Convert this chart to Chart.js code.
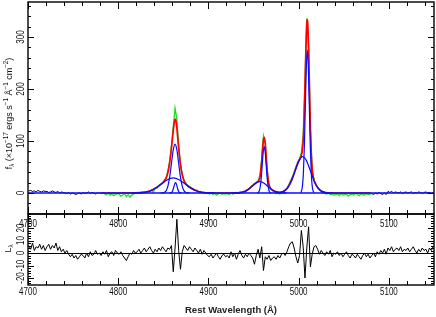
<!DOCTYPE html>
<html>
<head>
<meta charset="utf-8">
<script src="https://cdn.jsdelivr.net/npm/chart.js@4.4.0/dist/chart.umd.min.js"></script>
<style>
  html, body { margin: 0; padding: 0; background: #fff; }
  #wrap { position: relative; width: 436px; height: 317px; }
  #wrap canvas { position: absolute; left: 0; top: 0; }
</style>
</head>
<body>
<div id="wrap">
  <canvas id="spec" width="436" height="317"></canvas>
  <canvas id="resid" width="436" height="317"></canvas>
</div>
<script>
// spectrum grid (rest wavelength, 2 A per pixel)
const waveStart = 4701, waveStep = 2;
// part of the spectrum used in the fit (green)
const fitStart = 4777, fitEnd = 5081;

const obsFlux = [
  4, 5, 3, 4, 2, 5, 3, 2, 4, 3,
  3, 1, 2, 4, 2, 1, 3, 0, 2, 1,
  0, -1, 1, -2, 0, -1, -3, -1, 0, -2,
  1, -1, 0, 2, -1, 1, 0, -2, 1, 0,
  -1, 1, -2, -3, 0, -4, -2, -5, -3, -1,
  -2, -6, -4, -1, -7, -3, -8, -4, -2, 0,
  0, -1, 1, 2, 0, 2, 3, 2, 6, 1,
  10, 9, 15, 17, 18, 25, 28, 42, 60, 90,
  128, 163, 142, 92, 57, 37, 24, 19, 14, 13,
  10, 8, 5, 6, 2, 3, 0, 1, -1, 0,
  -2, 0, -3, -1, -4, -2, 0, -3, -1, -2,
  -1, -3, 0, -2, -1, 1, 0, 2, 1, 3,
  2, 6, 7, 12, 15, 18, 20, 23, 33, 64,
  110, 96, 47, 18, 8, 4, 1, -1, 0, -2,
  0, 2, 6, 9, 16, 24, 31, 40, 51, 60,
  66, 78, 110, 215, 336, 282, 118, 44, 26, 17,
  12, 7, 3, 1, -1, -2, 0, -3, -2, -4,
  -3, -2, -5, -1, -4, -3, -2, -6, -3, -2,
  -4, -1, -3, -5, -2, -3, -4, -1, -3, -2,
  -1, -3, 0, -2, 1, -1, -3, 0, -3, 3,
  1, 3, 0, 2, 1, 0, 2, -1, 1, 2,
  0, 1, 2, -1, 1, 0, 2, 1, -1, 1,
  2, 0, 1, -1, 1
];

const residual = [
  6, 3, 8, 2, 5, 4, 7, 3, 6, 2,
  5, 7, 3, 6, 4, 8, 2, 5, 1, 3,
  0, 2, -1, -3, -1, -4, -2, -5, -3, -1,
  -2, -4, 0, -3, 1, -2, -1, 2, -1, 0,
  -2, 1, -1, 2, -3, 0, 1, -2, 2, 0,
  -1, 1, -2, -4, -6, -3, 0, -1, 2, 0,
  1, 3, 0, 2, 4, 1, 3, 5, 2, 0,
  3, 1, 4, 2, 5, 3, 1, 4, 3, 6,
  -15, 4, 27, 2, -13, 1, 6, 4, 2, 5,
  3, 1, 4, 2, 0, 3, -1, 2, 0, -2,
  -3, -1, -4, -2, 0, -3, -5, -2, -1, -3,
  -2, -4, 1, -3, 0, -5, -1, 2, -2, -4,
  -1, -3, 0, -2, -4, -9, -2, 3, -4, 5,
  -14, -3, -5, -2, -6, -4, -3, -5, -2, -4,
  -1, 0, -2, 1, 5, 8, 9, 4, -3, -8,
  -2, 18, 5, -20, 4, 21, -11, -1, 5, 6,
  3, -1, 2, 0, -2, 1, -1, 2, -3, 0,
  -1, 1, -2, 0, -3, -1, 1, -2, -4, -1,
  -2, -4, -1, -3, -5, -2, 0, -3, -1, -4,
  -2, 0, -3, 1, -1, 2, 0, 3, -1, 4,
  2, 5, 1, 3, 4, 2, 5, 1, 3, 2,
  4, 1, 3, 5, 2, 0, 3, 1, 4, 2,
  3, 0, 4, 2, 5
];

// total model (red)
const modelWave = [4780, 4800, 4815, 4825, 4830, 4835, 4840, 4845, 4848, 4851, 4854, 4856, 4858, 4859,
  4860, 4861, 4862, 4863, 4864, 4865, 4866, 4867, 4868, 4870, 4872, 4874, 4877, 4880, 4885, 4890, 4895,
  4900, 4910, 4920, 4930, 4935, 4940, 4944, 4948, 4951, 4954, 4956, 4957, 4958, 4959, 4960, 4961, 4962,
  4963, 4964, 4965, 4966, 4967, 4968, 4970, 4973, 4976, 4980, 4984, 4988, 4992, 4995, 4998, 5000, 5002,
  5004, 5005, 5006, 5007, 5008, 5009, 5009.6, 5010, 5011, 5012, 5013, 5014, 5015, 5016, 5017, 5019,
  5021, 5024, 5027, 5030, 5035, 5040, 5080];
const modelFlux = [0, 0, 0.2, 0.6, 1.7, 3.9, 7.9, 13.6, 17.7, 22.6, 32.6, 47.2, 71.4, 86.6,
  103.0, 119.6, 134.2, 141.9, 138.5, 124.8, 105.5, 86.1, 69.0, 43.1, 27.8, 19.7, 13.8, 10.0, 5.3, 2.4, 0.95,
  0.3, 0, 0, 0.1, 0.8, 3.0, 6.8, 12.6, 17.1, 20.9, 24.6, 30.2, 41.8, 61.0, 84.4, 103.0, 107.1,
  93.8, 69.7, 45.0, 27.0, 16.4, 11.2, 6.9, 3.8, 2.1, 1.7, 3.9, 10.6, 23.7, 37.5, 52.3, 60.8, 67.7,
  80.8, 100.9, 141.0, 203.8, 275.4, 325.8, 333.5, 327.3, 276.9, 199.1, 125.8, 74.7, 46.1, 32.0, 24.7, 16.3,
  10.6, 5.0, 2.1, 0.8, 0.1, 0, 0];

// fit components (blue)
const contWave = [4700, 5150];
const contFlux = [0, 0];
const hbNarrowWave = [4857, 4858, 4859, 4860, 4861, 4862, 4863, 4863.5, 4864, 4865, 4866, 4867, 4868, 4869, 4870];
const hbNarrowFlux = [0, 0.2, 0.9, 3.0, 7.6, 14.1, 19.2, 20, 19.2, 14.1, 7.6, 3.0, 0.9, 0.2, 0];
const hbBroadWave = [4847, 4849, 4851, 4853, 4855, 4857, 4859, 4861, 4863, 4865, 4867, 4869, 4871, 4873, 4875, 4877, 4879];
const hbBroadFlux = [0, 0.2, 1.0, 4.1, 12.7, 30.5, 57.0, 83.0, 94, 83.0, 57.0, 30.5, 12.7, 4.1, 1.0, 0.2, 0];
const hbWideWave = [4815.5, 4822, 4828.5, 4835, 4841.5, 4848, 4854.5, 4861, 4867.5, 4874, 4880.5, 4887, 4893.5, 4900, 4906.5];
const hbWideFlux = [0.06, 0.3, 1.3, 3.9, 9.4, 17.6, 25.6, 29, 25.6, 17.6, 9.4, 3.9, 1.3, 0.3, 0.06];
const o4959Wave = [4954.1, 4955.2, 4956.3, 4957.4, 4958.5, 4959.6, 4960.7, 4961.8, 4962.9, 4964.0, 4965.1, 4966.2, 4967.3, 4968.4, 4969.5];
const o4959Flux = [0.2, 1.0, 3.9, 12.0, 28.9, 54.0, 78.5, 89, 78.5, 54.0, 28.9, 12.0, 3.9, 1.0, 0.2];
const o4959WingWave = [4927.25, 4931.5, 4935.75, 4940, 4944.25, 4948.5, 4952.75, 4957, 4961.25, 4965.5, 4969.75, 4974, 4978.25, 4982.5, 4986.75];
const o4959WingFlux = [0.05, 0.24, 0.97, 3.0, 7.1, 13.3, 19.4, 22, 19.4, 13.3, 7.1, 3.0, 0.97, 0.24, 0.05];
const o5007Wave = [5001.9, 5003.0, 5004.1, 5005.2, 5006.3, 5007.4, 5008.5, 5009.6, 5010.7, 5011.8, 5012.9, 5014.0, 5015.1, 5016.2, 5017.3];
const o5007Flux = [0.6, 3.1, 12.1, 37.2, 89.3, 166.8, 242.7, 275, 242.7, 166.8, 89.3, 37.2, 12.1, 3.1, 0.6];
const o5007WingWave = [4974.75, 4979, 4983.25, 4987.5, 4991.75, 4996, 5000.25, 5004.5, 5008.75, 5013, 5017.25, 5021.5, 5025.75, 5030, 5034.25];
const o5007WingFlux = [0.15, 0.8, 3.1, 9.5, 22.7, 42.5, 61.8, 70, 61.8, 42.5, 22.7, 9.5, 3.1, 0.8, 0.15];

// axes
const xTickLabels = [4700, 4800, 4900, 5000, 5100];
const fluxTicks = [0, 100, 200, 300];
const residTicks = [-20, -10, 0, 10, 20];

const FONT = '"Liberation Sans", Arial, sans-serif';
const wave = obsFlux.map((_, i) => waveStart + i * waveStep);
const pts = (xs, ys) => xs.map((x, i) => ({ x: x, y: ys[i] }));

function line(data, color, width, order, smooth) {
  return {
    data: data, borderColor: color, borderWidth: width, pointRadius: 0,
    fill: false, order: order, spanGaps: false,
    cubicInterpolationMode: smooth ? 'monotone' : 'default', tension: 0
  };
}

function drawText(ctx, text, x, y, font, rotate, sx) {
  ctx.save();
  ctx.translate(x, y);
  if (rotate) ctx.rotate(-Math.PI / 2);
  ctx.scale(sx || 1, 1);
  ctx.font = font;
  ctx.textAlign = 'center';
  ctx.textBaseline = 'middle';
  ctx.fillText(text, 0, 0);
  ctx.restore();
}

// text with sub/superscripts, rotated, centred on (x, y)
function drawRich(ctx, parts, x, y, size) {
  const small = size * 0.7;
  ctx.save();
  ctx.translate(x, y);
  ctx.rotate(-Math.PI / 2);
  ctx.textBaseline = 'middle';
  ctx.textAlign = 'left';
  let total = 0;
  parts.forEach(p => {
    ctx.font = (p[1] ? small : size) + 'px ' + FONT;
    total += ctx.measureText(p[0]).width;
  });
  let cx = -total / 2;
  parts.forEach(p => {
    ctx.font = (p[1] ? small : size) + 'px ' + FONT;
    const dy = p[1] === 'sup' ? -size * 0.38 : p[1] === 'sub' ? size * 0.3 : 0;
    ctx.fillText(p[0], cx, dy);
    cx += ctx.measureText(p[0]).width;
  });
  ctx.restore();
}

function framePlugin(cfg) {
  return {
    id: 'frame',
    afterDraw(chart) {
      const ctx = chart.ctx, a = chart.chartArea;
      const xs = chart.scales.x, ys = chart.scales.y;
      ctx.save();
      ctx.strokeStyle = '#000';
      ctx.fillStyle = '#111';
      // zero line
      if (cfg.zeroLine) {
        const p = Math.round(ys.getPixelForValue(0)) + 0.5;
        ctx.lineWidth = 1;
        ctx.beginPath(); ctx.moveTo(a.left, p); ctx.lineTo(a.right, p); ctx.stroke();
      }
      // inward ticks on all four sides
      ctx.lineWidth = 1;
      ctx.beginPath();
      const xt = (v, len) => {
        const p = Math.round(xs.getPixelForValue(v)) + 0.5;
        ctx.moveTo(p, a.bottom); ctx.lineTo(p, a.bottom - len);
        ctx.moveTo(p, a.top); ctx.lineTo(p, a.top + len);
      };
      const yt = (v, len) => {
        const p = Math.round(ys.getPixelForValue(v)) + 0.5;
        ctx.moveTo(a.left, p); ctx.lineTo(a.left + len, p);
        ctx.moveTo(a.right, p); ctx.lineTo(a.right - len, p);
      };
      for (let w = 4700; w <= 5150; w += 20) xt(w, 4);
      xTickLabels.forEach(v => xt(v, 7));
      for (let v = cfg.minorStart; v <= ys.max; v += cfg.minorStep) yt(v, 3);
      cfg.yTicks.forEach(v => yt(v, 6));
      ctx.stroke();
      // frame
      ctx.lineWidth = 1.4;
      ctx.strokeRect(a.left, a.top, a.right - a.left, a.bottom - a.top);
      // tick labels
      const tf = '10px ' + FONT;
      xTickLabels.forEach(v => drawText(ctx, String(v), xs.getPixelForValue(v), cfg.xLabelY, tf, false, 0.8));
      cfg.yTicks.forEach(v => drawText(ctx, String(v), 21.5, ys.getPixelForValue(v), tf, true, 0.8));
      if (cfg.after) cfg.after(ctx, a);
      ctx.restore();
    }
  };
}

const greenData = wave.map((w, i) => ({ x: w, y: (w >= fitStart && w <= fitEnd) ? obsFlux[i] : null }));
const blackData = wave.map((w, i) => ({ x: w, y: (w <= fitStart || w >= fitEnd) ? obsFlux[i] : null }));
const BLUE = '#0a0aff';

new Chart(document.getElementById('spec'), {
  type: 'line',
  data: {
    datasets: [
      line(pts(contWave, contFlux), BLUE, 1.3, 1, false),
      line(pts(hbNarrowWave, hbNarrowFlux), BLUE, 1.2, 1, true),
      line(pts(hbBroadWave, hbBroadFlux), BLUE, 1.2, 1, true),
      line(pts(hbWideWave, hbWideFlux), BLUE, 1.2, 1, true),
      line(pts(o4959Wave, o4959Flux), BLUE, 1.2, 1, true),
      line(pts(o4959WingWave, o4959WingFlux), BLUE, 1.2, 1, true),
      line(pts(o5007Wave, o5007Flux), BLUE, 1.2, 1, true),
      line(pts(o5007WingWave, o5007WingFlux), BLUE, 1.2, 1, true),
      line(pts(modelWave, modelFlux), '#ff0000', 1.7, 2, true),
      line(greenData, '#1ee01e', 1.3, 3, false),
      line(blackData, '#000000', 1, 3, false)
    ]
  },
  options: {
    responsive: false,
    animation: false,
    layout: { padding: { left: 28, top: 2, right: 2, bottom: 103 } },
    plugins: { legend: { display: false }, tooltip: { enabled: false } },
    scales: {
      x: { type: 'linear', display: false, min: 4700, max: 5150 },
      y: { type: 'linear', display: false, min: -40.4, max: 367.3 }
    }
  },
  plugins: [framePlugin({
    yTicks: fluxTicks, minorStart: -40, minorStep: 20, xLabelY: 224.5,
    after(ctx) {
      drawRich(ctx, [['f', 0], ['λ', 'sub'], [' (×10', 0], ['−17', 'sup'], [' ergs s', 0], ['−1', 'sup'],
        [' Å', 0], ['−1', 'sup'], [' cm', 0], ['−2', 'sup'], [')', 0]], 9.5, 113.5, 9);
    }
  })]
});

new Chart(document.getElementById('resid'), {
  type: 'line',
  data: {
    datasets: [line(pts(wave, residual), '#000000', 1, 1, false)]
  },
  options: {
    responsive: false,
    animation: false,
    layout: { padding: { left: 28, top: 214, right: 2, bottom: 32 } },
    plugins: { legend: { display: false }, tooltip: { enabled: false } },
    scales: {
      x: { type: 'linear', display: false, min: 4700, max: 5150 },
      y: { type: 'linear', display: false, min: -25.6, max: 31.2 }
    }
  },
  plugins: [framePlugin({
    yTicks: residTicks, minorStart: -24, minorStep: 2, xLabelY: 292.5, zeroLine: true,
    after(ctx) {
      drawRich(ctx, [['L', 0], ['λ', 'sub']], 8.5, 248.5, 9);
      ctx.save();
      ctx.font = 'bold 9.5px ' + FONT;
      ctx.fillStyle = '#222';
      ctx.textAlign = 'center';
      ctx.textBaseline = 'middle';
      ctx.fillText('Rest Wavelength (Å)', 231, 310);
      ctx.restore();
    }
  })]
});
</script>
</body>
</html>
